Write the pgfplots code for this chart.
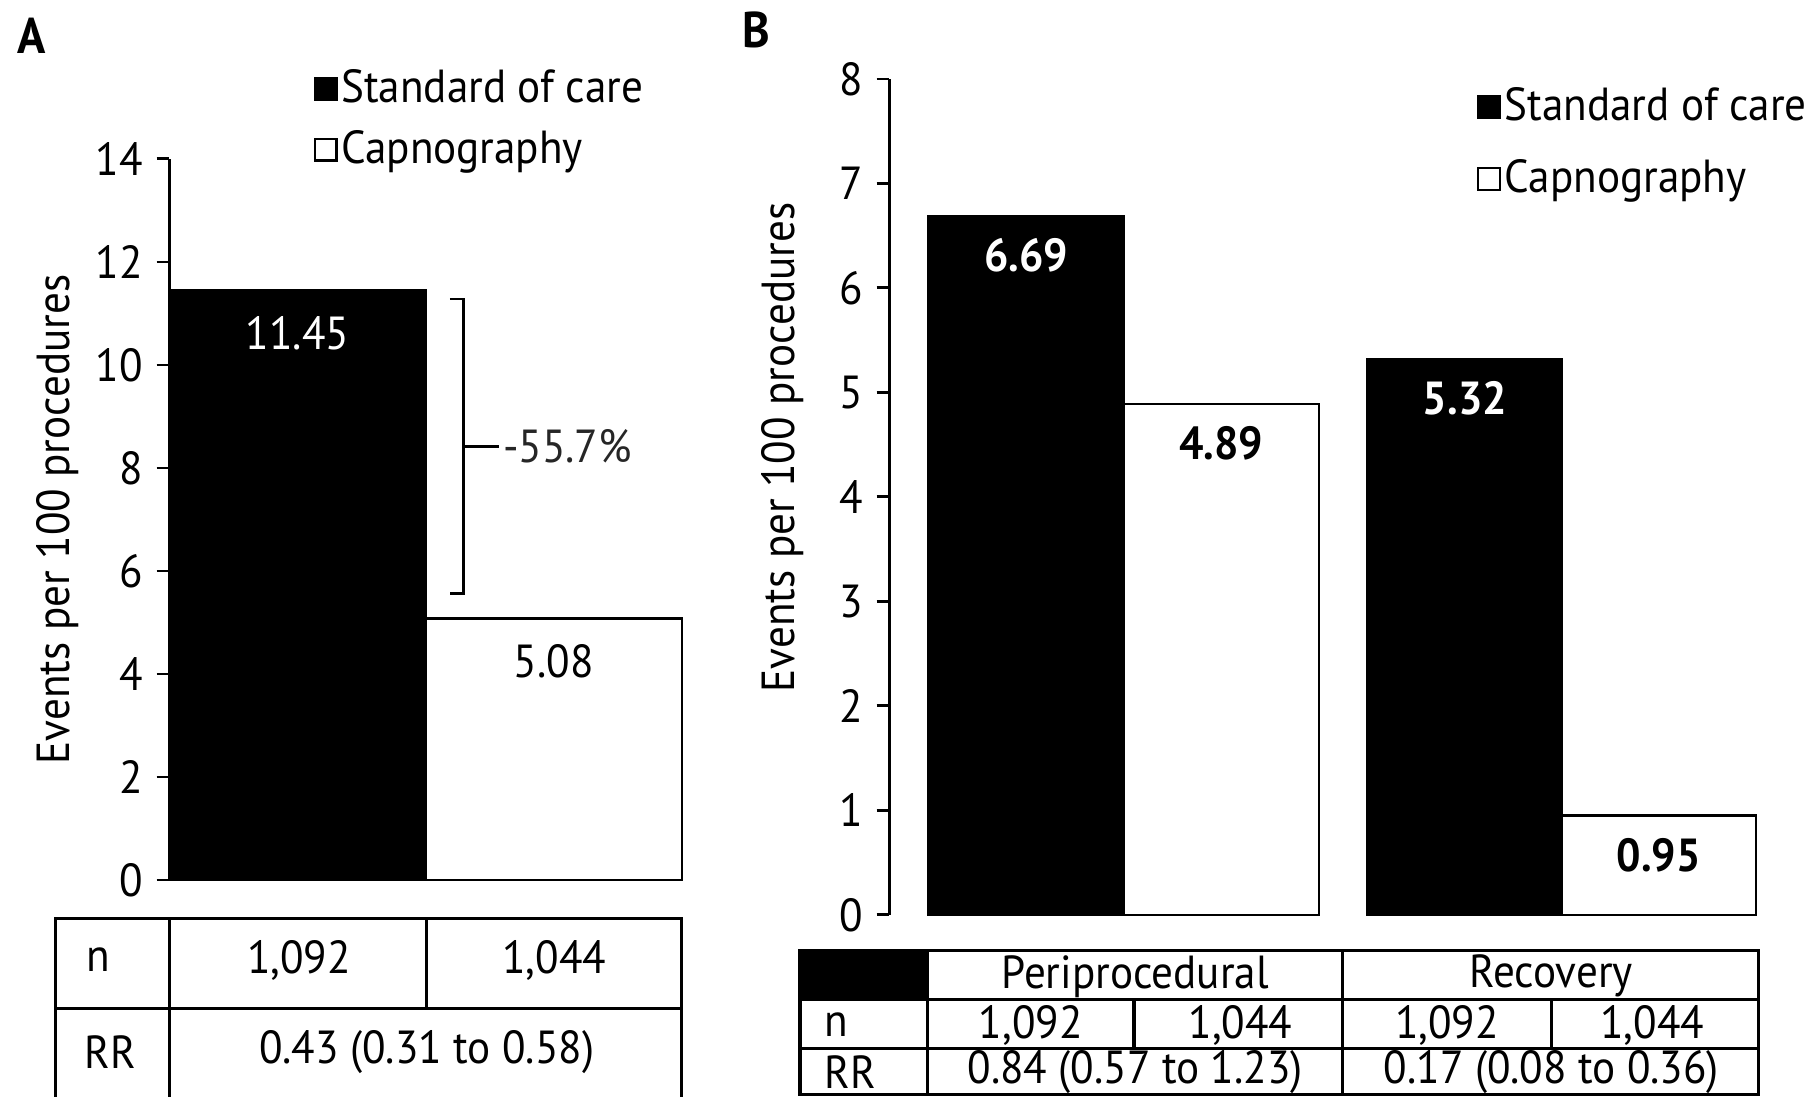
\documentclass[border=0pt]{standalone}
\usepackage{fontspec}
\setmainfont{PT Sans}[FakeStretch=0.93]
\usepackage{pgfplots}
\pgfplotsset{compat=1.18}
\newcommand{\fs}{\fontsize{12}{14}\selectfont}
\pgfplotsset{
  panel/.style={
    scale only axis, clip=false,
    axis x line=none, axis y line=left,
    y axis line style={-, line width=0.7pt},
    tick align=outside, major tick length=3.3pt,
    ytick style={line width=0.7pt, black},
    yticklabel style={font=\fs},
    /pgf/number format/assume math mode=true,
    ybar, bar shift=0pt,
    ylabel style={font=\fs},
    legend cell align=left,
    legend style={draw=none, fill=none, font=\fs, inner sep=0pt,
      nodes={inner sep=1pt}},
    nodes near coords={\pgfmathprintnumber[fixed,fixed zerofill,precision=2]{\pgfplotspointmeta}},
    every node near coord/.append style={font=\fs, anchor=center},
  },
  sq/.style={legend image code/.code={\draw[##1,line width=0.6pt] (0pt,-2.8pt) rectangle (5.6pt,2.8pt);}},
}
\begin{document}
\begin{tikzpicture}
\useasboundingbox (0pt,0pt) rectangle (470.4pt,-283.8pt);

% Panel A
\begin{axis}[panel,
  at={(43.8pt,-227.7pt)}, anchor=south west,
  width=132.6pt, height=186.6pt,
  xmin=0, xmax=2, ymin=0, ymax=14, ytick={0,2,...,14},
  bar width=1,
  ylabel={Events per 100 procedures},
  ylabel style={at={(rel axis cs:0,0.5)}, anchor=center, yshift=28.8pt},
  legend style={at={(rel axis cs:0.28,1.13)}, anchor=north west, row sep=3.6pt},
  every node near coord/.append style={yshift=-11.1pt},
]
\addplot[fill=black, draw=black, line width=0.6pt, sq,
  every node near coord/.append style={text=white}] coordinates {(0.5,11.45)};
\addplot[fill=white, draw=black, line width=0.6pt, sq,
  every node near coord/.append style={text=black}] coordinates {(1.5,5.08)};
\legend{Standard of care, Capnography}
\draw[line width=0.7pt] (axis cs:1.095,11.28) -- (axis cs:1.149,11.28) -- (axis cs:1.149,5.56) -- (axis cs:1.095,5.56);
\draw[line width=0.7pt] (axis cs:1.149,8.42) -- (axis cs:1.285,8.42);
\node[anchor=west, font=\fs, inner sep=1pt, text=black!85] at (axis cs:1.285,8.42) {-55.7\%};
\end{axis}

% Panel B
\begin{axis}[panel,
  at={(230.1pt,-236.7pt)}, anchor=south west,
  width=225pt, height=216.3pt,
  xmin=0, xmax=4.464, ymin=0, ymax=8, ytick={0,1,...,8},
  bar width=1,
  ylabel={Events per 100 procedures},
  ylabel style={at={(rel axis cs:0,0.559)}, anchor=center, yshift=27.6pt},
  legend style={at={(rel axis cs:0.675,0.995)}, anchor=north west, row sep=6.6pt},
  every node near coord/.append style={yshift=-10.2pt, font=\fs\bfseries},
]
\addplot[fill=black, draw=black, line width=0.6pt, sq,
  every node near coord/.append style={text=white}] coordinates {(0.702,6.69) (2.955,5.32)};
\addplot[fill=white, draw=black, line width=0.6pt, sq,
  every node near coord/.append style={text=black}] coordinates {(1.705,4.89) (3.95,0.95)};
\legend{Standard of care, Capnography}
\end{axis}

\begin{scope}[x=0.3pt,y=-0.3pt, line width=0.8pt, every node/.style={font=\fs, inner sep=0pt}]
\node[font=\fontsize{13}{15}\selectfont\bfseries] at (27,31) {A};
\node[font=\fontsize{13}{15}\selectfont\bfseries] at (652,26) {B};
% Table A
\draw (48,792) rectangle (588,952);
\draw (48,870) -- (588,870);
\draw (146,792) -- (146,952);
\draw (368,792) -- (368,870);
\node at (85,828) {n};
\node at (258,828) {1,092};
\node at (478,828) {1,044};
\node at (95,907) {RR};
\node at (368,907) {0.43 (0.31 to 0.58)};
% Table B
\fill[black] (690,820) rectangle (800,862);
\draw (690,820) rectangle (1517,944);
\draw (690,862) -- (1517,862);
\draw (690,904) -- (1517,904);
\draw (800,820) -- (800,944);
\draw (1158,820) -- (1158,944);
\draw (978,862) -- (978,904);
\draw (1338,862) -- (1338,904);
\node at (979,842) {Periprocedural};
\node at (1338,842) {Recovery};
\node[anchor=west] at (710,884) {n};
\node at (889,884) {1,092};
\node at (1070,884) {1,044};
\node at (1248,884) {1,092};
\node at (1425,884) {1,044};
\node[anchor=west] at (710,925) {RR};
\node at (979,925) {0.84 (0.57 to 1.23)};
\node at (1338,925) {0.17 (0.08 to 0.36)};
\end{scope}
\end{tikzpicture}
\end{document}
